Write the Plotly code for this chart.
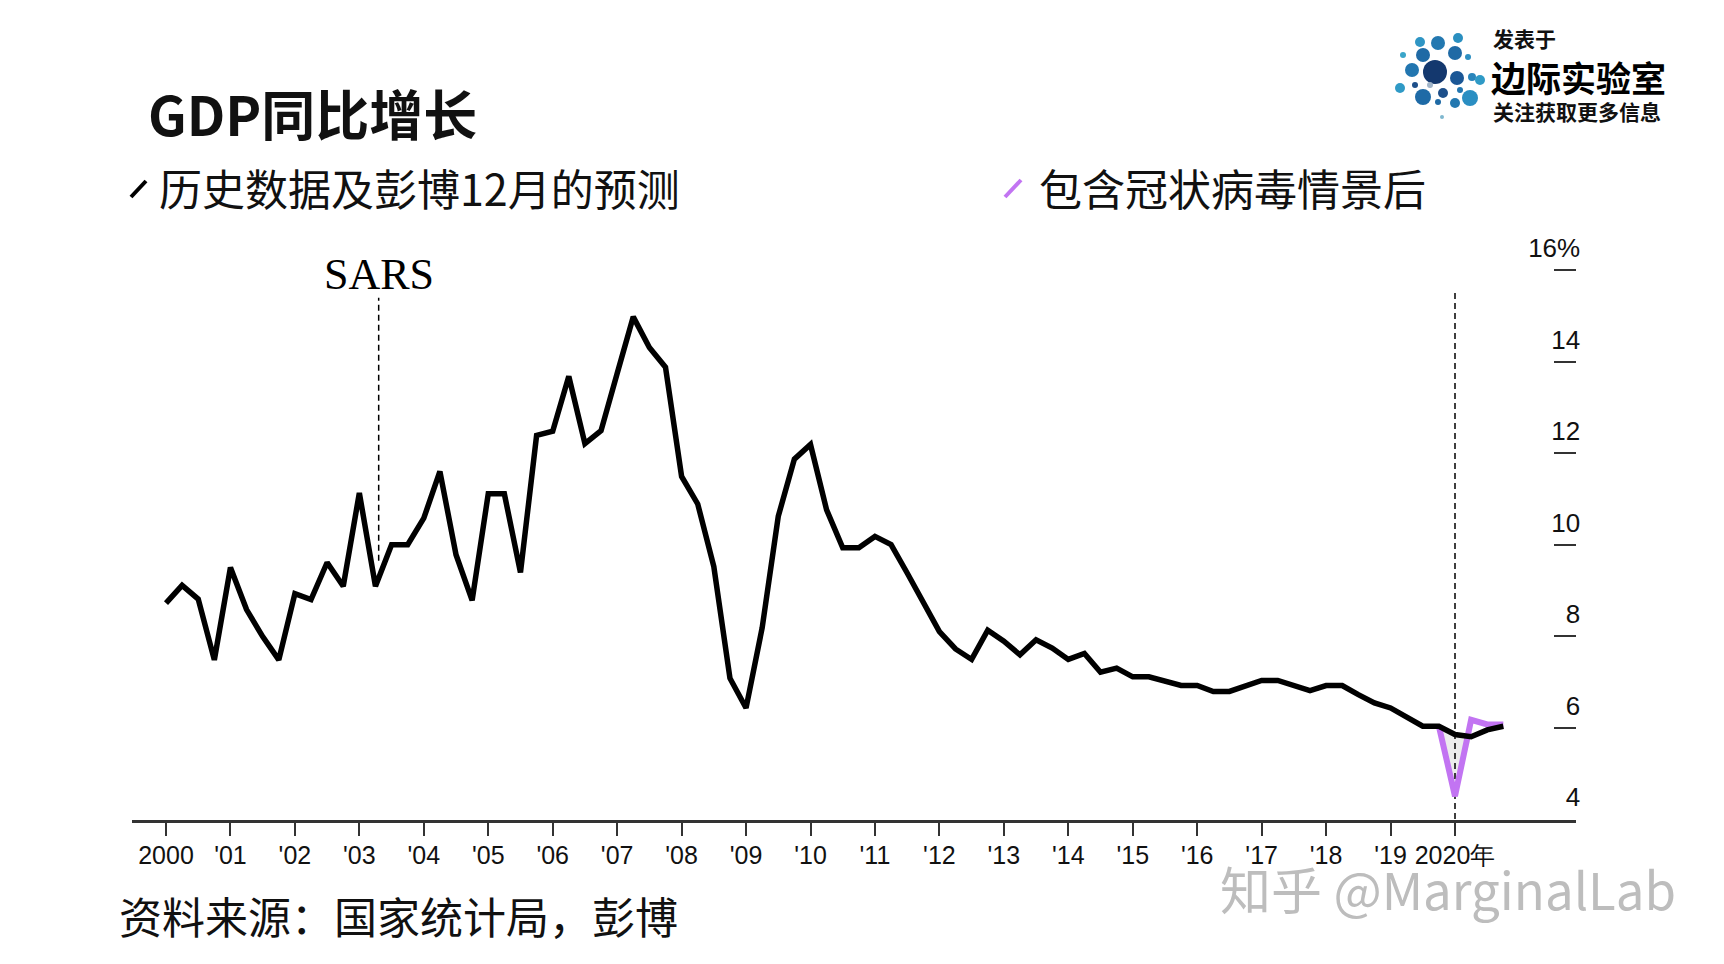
import numpy as np
import plotly.graph_objects as go

# ---------------- data ----------------
start_year = 2000
gdp_hist = [
    8.72, 9.11, 8.81, 7.48,   # 2000
    9.50, 8.58, 7.99, 7.48,   # 2001
    8.93, 8.80, 9.61, 9.09,   # 2002
    11.13, 9.09, 10.00, 10.00,  # 2003
    10.58, 11.60, 9.78, 8.78,  # 2004
    11.11, 11.11, 9.39, 12.39,  # 2005
    12.48, 13.68, 12.21, 12.49,  # 2006
    13.74, 14.98, 14.31, 13.88,  # 2007
    11.49, 10.89, 9.52, 7.08,  # 2008
    6.43, 8.18, 10.62, 11.87,  # 2009
    12.19, 10.76, 9.93, 9.93,  # 2010
    10.18, 10.00, 9.38, 8.76,  # 2011
    8.10, 7.72, 7.49, 8.13,   # 2012
    7.89, 7.59, 7.92, 7.74,   # 2013
    7.49, 7.62, 7.21, 7.30,   # 2014
    7.11, 7.11, 7.03, 6.92,   # 2015
    6.92, 6.79, 6.79, 6.92,   # 2016
    7.03, 7.03, 6.92, 6.81,   # 2017
    6.92, 6.92, 6.72, 6.54,   # 2018
    6.43, 6.23, 6.03, 6.03,   # 2019
]
# Bloomberg December forecast, 2019Q4 .. 2020Q4
forecast_dec = [6.03, 5.85, 5.80, 5.95, 6.03]
# scenario including coronavirus, 2019Q4 .. 2020Q4
forecast_covid = [6.03, 4.50, 6.17, 6.07, 6.07]

event_labels = ["SARS", ""]
event_x = [2003.3, 2020.0]
event_y_low = [9.65, 4.0]
event_y_high = [15.4, 15.55]

x_tickvals = list(range(2000, 2021))
x_ticktext = ["2000"] + ["'%02d" % (y % 100) for y in range(2001, 2020)] + ["2020年"]
y_tickvals = [4, 6, 8, 10, 12, 14, 16]
y_ticktext = ["4", "6", "8", "10", "12", "14", "16%"]

# ---------------- derived x positions ----------------
x_hist = start_year + np.arange(len(gdp_hist)) * 0.25
x_fc = x_hist[-1] + np.arange(len(forecast_dec)) * 0.25

# ---------------- geometry helpers ----------------
W_FIG, H_FIG = 1724, 964
L, R, T, B = 132, 1576, 224, 820
PW, PH = R - L, B - T
PX_PER_UNIT = 45.74
Y_MIN = 3.98
Y_MAX = Y_MIN + PH / PX_PER_UNIT


def xp(px):
    return (px - L) / PW


def yp(py):
    return (B - py) / PH


BLACK = "#000000"
PURPLE = "#c274f2"
AX = "#333333"
CJK = "Noto Sans CJK SC"

fig = go.Figure()

# gray area where the coronavirus scenario falls below the December forecast
lower = np.minimum(np.array(forecast_covid), np.array(forecast_dec))
fig.add_trace(go.Scatter(x=x_fc, y=forecast_dec, mode="lines",
                         line=dict(width=0, color="rgba(0,0,0,0)"),
                         hoverinfo="skip", showlegend=False))
fig.add_trace(go.Scatter(x=x_fc, y=lower, mode="lines", fill="tonexty",
                         fillcolor="#ececec",
                         line=dict(width=0, color="rgba(0,0,0,0)"),
                         hoverinfo="skip", showlegend=False))

# event dashed lines
for ex, y0, y1 in zip(event_x, event_y_low, event_y_high):
    fig.add_trace(go.Scatter(x=[ex, ex], y=[y0, y1], mode="lines",
                             line=dict(color=BLACK, width=1.5, dash="6px,4px"),
                             hoverinfo="skip", showlegend=False))

# covid scenario
fig.add_trace(go.Scatter(x=x_fc, y=forecast_covid, mode="lines",
                         line=dict(color=PURPLE, width=6, shape="linear"),
                         name="包含冠状病毒情景后", showlegend=False))
# history + december forecast
fig.add_trace(go.Scatter(x=np.concatenate([x_hist, x_fc[1:]]),
                         y=list(gdp_hist) + list(forecast_dec[1:]),
                         mode="lines",
                         line=dict(color=BLACK, width=5.5),
                         name="历史数据及彭博12月的预测", showlegend=False))

annotations = []
# event labels
for lab, ex, y1 in zip(event_labels, event_x, event_y_high):
    if lab:
        annotations.append(dict(x=ex, y=15.9, xref="x", yref="y", text=lab,
                                showarrow=False, xanchor="center", yanchor="middle",
                                font=dict(family="Liberation Serif", size=44, color=BLACK)))

# titles
annotations += [
    dict(x=xp(146), y=yp(112), xref="paper", yref="paper", text="<b>GDP同比增长</b>",
         showarrow=False, xanchor="left", yanchor="middle",
         font=dict(family=CJK, size=54, color="#111111")),
    dict(x=xp(157), y=yp(187), xref="paper", yref="paper", text="历史数据及彭博12月的预测",
         showarrow=False, xanchor="left", yanchor="middle",
         font=dict(family=CJK, size=43, color="#111111")),
    dict(x=xp(1037), y=yp(187), xref="paper", yref="paper", text="包含冠状病毒情景后",
         showarrow=False, xanchor="left", yanchor="middle",
         font=dict(family=CJK, size=43, color="#111111")),
    dict(x=xp(117), y=yp(915), xref="paper", yref="paper", text="资料来源：国家统计局，彭博",
         showarrow=False, xanchor="left", yanchor="middle",
         font=dict(family=CJK, size=43, color="#111111")),
    dict(x=xp(1218), y=yp(888), xref="paper", yref="paper", text="知乎 @MarginalLab",
         showarrow=False, xanchor="left", yanchor="middle",
         font=dict(family=CJK, size=51, color="#bdbdbd")),
    # logo text
    dict(x=xp(1491), y=yp(38), xref="paper", yref="paper", text="<b>发表于</b>",
         showarrow=False, xanchor="left", yanchor="middle",
         font=dict(family=CJK, size=21, color="#111111")),
    dict(x=xp(1489), y=yp(76), xref="paper", yref="paper", text="<b>边际实验室</b>",
         showarrow=False, xanchor="left", yanchor="middle",
         font=dict(family=CJK, size=35, color="#000000")),
    dict(x=xp(1491), y=yp(111), xref="paper", yref="paper", text="<b>关注获取更多信息</b>",
         showarrow=False, xanchor="left", yanchor="middle",
         font=dict(family=CJK, size=21, color="#111111")),
]

shapes = [
    # legend glyphs
    dict(type="line", xref="paper", yref="paper", x0=xp(131), y0=yp(197), x1=xp(146), y1=yp(181),
         line=dict(color=BLACK, width=4)),
    dict(type="line", xref="paper", yref="paper", x0=xp(1005), y0=yp(197), x1=xp(1021), y1=yp(180),
         line=dict(color=PURPLE, width=4)),
]

# logo circles (decoration): centre x, centre y, radius in px, colour
logo = [
    (1458, 38, 5, "#2a8fc0"), (1438, 43, 7, "#2378b0"), (1420, 42, 5, "#2f95c4"),
    (1423, 55, 7, "#1f6aa5"), (1438, 66, 3, "#1d4f8a"), (1455, 53, 7, "#1f6aa5"),
    (1468, 57, 3, "#2d8fc2"), (1435, 72, 12, "#14386e"), (1412, 70, 7, "#2276b0"),
    (1403, 55, 3, "#3aa5c9"), (1457, 78, 7, "#1b5796"), (1472, 77, 4, "#2a85bb"),
    (1480, 80, 5, "#2f9ac6"), (1400, 88, 5, "#2f9ac6"), (1415, 85, 3, "#1d4f8a"),
    (1430, 85, 3, "#a0b4c8"), (1423, 97, 8, "#1e6aa6"), (1443, 93, 5, "#1d4f8a"),
    (1460, 90, 3, "#2276b0"), (1470, 98, 8, "#2a8ec2"), (1455, 103, 5, "#2378b0"),
    (1438, 102, 3, "#1f6aa5"), (1442, 117, 2, "#7fb7cf"),
]
for cx, cy, rr, col in logo:
    shapes.append(dict(type="circle", xref="paper", yref="paper",
                       xsizemode="pixel", ysizemode="pixel",
                       xanchor=xp(cx), yanchor=yp(cy),
                       x0=-rr, x1=rr, y0=-rr, y1=rr,
                       fillcolor=col, line=dict(width=0)))

fig.update_layout(
    width=W_FIG, height=H_FIG,
    margin=dict(l=L, r=W_FIG - R, t=T, b=H_FIG - B, pad=0),
    paper_bgcolor="white", plot_bgcolor="white",
    showlegend=False,
    annotations=annotations,
    shapes=shapes,
    xaxis=dict(range=[2000 - (166 - L) / 64.45, 2000 + (R - 166) / 64.45],
               tickvals=x_tickvals, ticktext=x_ticktext, tickangle=0,
               ticks="outside", ticklen=13, tickwidth=2, tickcolor=AX,
               showline=True, linecolor=AX, linewidth=2.5,
               showgrid=False, zeroline=False, ticklabelstandoff=-2,
               tickfont=dict(family="Liberation Sans", size=25, color="#111111")),
    yaxis=dict(range=[Y_MIN, Y_MAX], side="right",
               tickvals=y_tickvals, ticktext=y_ticktext,
               ticks="inside", ticklen=22, tickwidth=2, tickcolor=AX,
               ticklabelposition="inside", ticklabelshift=-22, ticklabelstandoff=-24,
               showline=False, showgrid=False, zeroline=False,
               tickfont=dict(family="Liberation Sans", size=26, color="#111111")),
)

fig.write_html("out.html")
